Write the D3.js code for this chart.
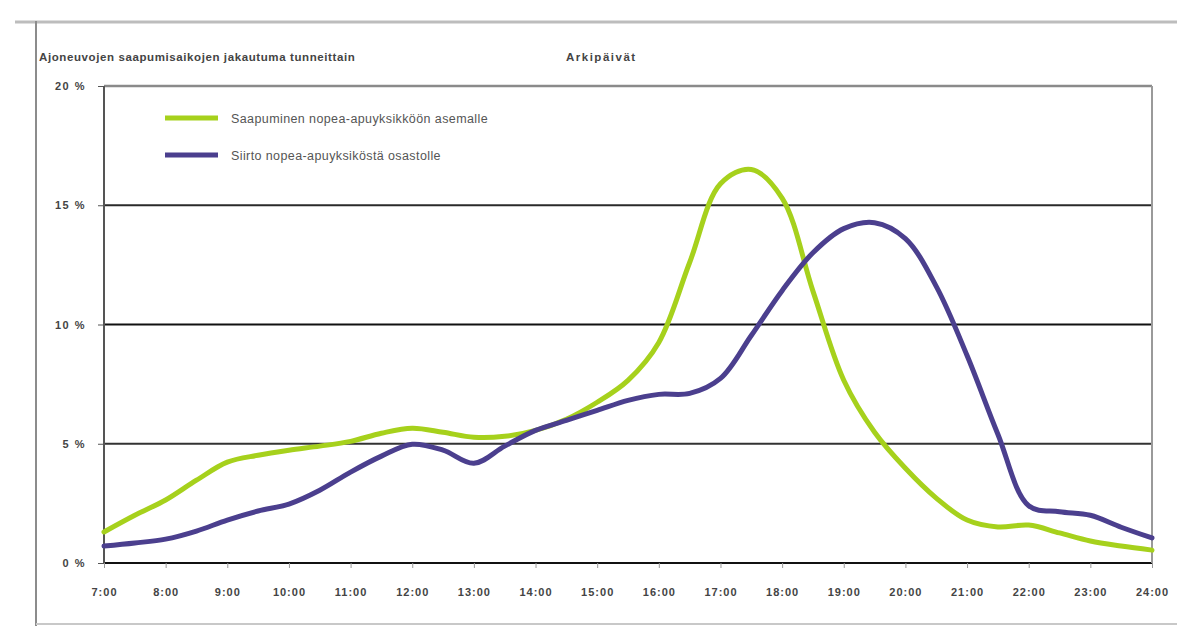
<!DOCTYPE html>
<html>
<head>
<meta charset="utf-8">
<script src="https://cdn.jsdelivr.net/npm/d3@7"></script>
<style>
  html, body { margin: 0; padding: 0; background: #fff; }
  svg { display: block; font-family: "Liberation Sans", Arial, sans-serif; }
</style>
</head>
<body>
<svg id="chart" width="1177" height="626"></svg>
<script>
// Half-hourly time points, 7:00 .. 24:00 (hours)
const hours = [7, 7.5, 8, 8.5, 9, 9.5, 10, 10.5, 11, 11.5, 12, 12.5, 13, 13.5, 14, 14.5,
  15, 15.5, 16, 16.5, 17, 17.5, 18, 18.5, 19, 19.5, 20, 20.5, 21, 21.5, 22, 22.5, 23, 23.5, 24];

// Share of arrivals (%) per time point
const greenSeries = [1.3, 2.0, 2.64, 3.47, 4.23, 4.52, 4.73, 4.9, 5.1, 5.44, 5.65, 5.48, 5.27, 5.31, 5.56, 6.03,
  6.74, 7.66, 9.25, 12.6, 15.9, 16.5, 15.3, 11.4, 7.66, 5.48, 3.97, 2.72, 1.8, 1.51, 1.59, 1.26, 0.92, 0.71, 0.54];
const purpleSeries = [0.71, 0.84, 1.0, 1.34, 1.8, 2.18, 2.47, 3.05, 3.81, 4.48, 4.98, 4.73, 4.18, 4.9, 5.56, 5.98,
  6.4, 6.82, 7.07, 7.11, 7.74, 9.54, 11.42, 13.01, 14.02, 14.27, 13.6, 11.6, 8.7, 5.4, 2.4, 2.15, 2.0, 1.5, 1.05];

const seriesNames = ["Saapuminen nopea-apuyksikköön asemalle", "Siirto nopea-apuyksiköstä osastolle"];
const xTickHours = d3.range(7, 25);
const xTickLabels = xTickHours.map(h => h + ":00");
const yTicks = [0, 5, 10, 15, 20];
const headerLeft = "Ajoneuvojen saapumisaikojen jakautuma tunneittain";
const headerRight = "Arkipäivät";

const svg = d3.select("#chart");

// outer frame
svg.append("line").attr("x1", 15).attr("x2", 1177).attr("y1", 22).attr("y2", 22)
  .attr("stroke", "#bdbdbd").attr("stroke-width", 3);
svg.append("line").attr("x1", 36).attr("x2", 36).attr("y1", 21).attr("y2", 626)
  .attr("stroke", "#8c8c8c").attr("stroke-width", 2);
svg.append("line").attr("x1", 36).attr("x2", 1177).attr("y1", 624).attr("y2", 624)
  .attr("stroke", "#c8c8c8").attr("stroke-width", 2);

// header texts
svg.append("text").attr("x", 39).attr("y", 61).attr("font-size", 11.5).attr("fill", "#444")
  .attr("font-weight", "bold").attr("letter-spacing", 0.6).text(headerLeft);
svg.append("text").attr("x", 566).attr("y", 61).attr("font-size", 11.5).attr("fill", "#444")
  .attr("font-weight", "bold").attr("letter-spacing", 1.5).text(headerRight);

const plot = { left: 104, right: 1152, top: 86, bottom: 563 };
const x = d3.scaleLinear().domain([7, 24]).range([plot.left, plot.right]);
const y = d3.scaleLinear().domain([0, 20]).range([plot.bottom, plot.top]);

// horizontal gridlines
const gridColor = { 20: "#8a8a8a", 15: "#2a2a2a", 10: "#111", 5: "#333", 0: "#111" };
svg.append("g").selectAll("line").data(yTicks).join("line")
  .attr("x1", plot.left).attr("x2", plot.right)
  .attr("y1", d => y(d)).attr("y2", d => y(d))
  .attr("stroke", d => gridColor[d]).attr("stroke-width", d => d === 20 ? 2.5 : 2);

// left and right plot borders
svg.append("line").attr("x1", plot.left).attr("x2", plot.left).attr("y1", plot.top).attr("y2", plot.bottom)
  .attr("stroke", "#555").attr("stroke-width", 2);
svg.append("line").attr("x1", plot.right).attr("x2", plot.right).attr("y1", plot.top).attr("y2", plot.bottom)
  .attr("stroke", "#9a9a9a").attr("stroke-width", 2);

// y axis
const yAxis = d3.axisLeft(y).tickValues(yTicks).tickSize(6).tickPadding(12)
  .tickFormat(d => d + " %");
const gy = svg.append("g").attr("transform", `translate(${plot.left},0)`).call(yAxis);
gy.select(".domain").remove();
gy.selectAll(".tick line").attr("stroke", "#555");
gy.selectAll(".tick text").attr("font-size", 11).attr("font-weight", "bold").attr("fill", "#444")
  .attr("letter-spacing", 1.5).attr("font-family", "Liberation Sans, Arial, sans-serif");

// x axis
const xAxis = d3.axisBottom(x).tickValues(xTickHours).tickSize(5).tickPadding(20)
  .tickFormat((d, i) => xTickLabels[i]);
const gx = svg.append("g").attr("transform", `translate(0,${plot.bottom})`).call(xAxis);
gx.select(".domain").remove();
gx.selectAll(".tick line").attr("stroke", "#999");
gx.selectAll(".tick text").attr("font-size", 11).attr("font-weight", "bold").attr("fill", "#444")
  .attr("letter-spacing", 1).attr("font-family", "Liberation Sans, Arial, sans-serif");

// series lines
const line = d3.line().x((d, i) => x(hours[i])).y(d => y(d)).curve(d3.curveCatmullRom.alpha(0.5));
const colors = ["#a6d11c", "#4b3f8e"];
[greenSeries, purpleSeries].forEach((s, k) => {
  svg.append("path").datum(s).attr("d", line)
    .attr("fill", "none").attr("stroke", colors[k]).attr("stroke-width", 5)
    .attr("stroke-linejoin", "round").attr("stroke-linecap", "round");
});

// legend
const legend = svg.append("g");
seriesNames.forEach((name, k) => {
  const ly = 118 + k * 37;
  legend.append("line").attr("x1", 165).attr("x2", 218).attr("y1", ly).attr("y2", ly)
    .attr("stroke", colors[k]).attr("stroke-width", 5);
  legend.append("text").attr("x", 231).attr("y", ly + 4.5).attr("font-size", 12.5)
    .attr("fill", "#555").attr("letter-spacing", 0.4).text(name);
});
</script>
</body>
</html>
